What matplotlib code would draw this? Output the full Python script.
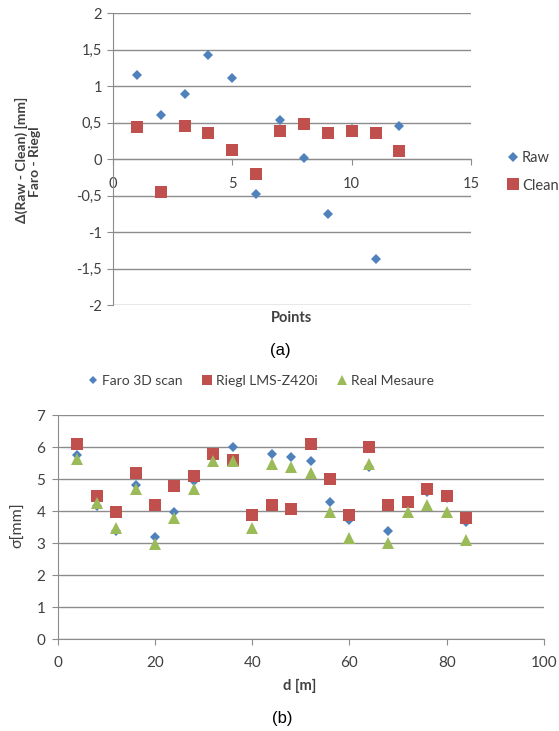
import matplotlib
matplotlib.use("Agg")
import matplotlib.pyplot as plt

# ---------------- data (a) ----------------
points = [1, 2, 3, 4, 5, 6, 7, 8, 9, 10, 11, 12]
raw = [1.16, 0.60, 0.89, 1.43, 1.11, -0.48, 0.53, 0.01, -0.75, 0.42, -1.37, 0.45]
clean = [0.44, -0.45, 0.46, 0.36, 0.12, -0.21, 0.39, 0.48, 0.36, 0.39, 0.36, 0.11]
a_yticks = [-2, -1.5, -1, -0.5, 0, 0.5, 1, 1.5, 2]
a_yticklabels = ["-2", "-1,5", "-1", "-0,5", "0", "0,5", "1", "1,5", "2"]
a_xticks = [0, 5, 10, 15]

# ---------------- data (b) ----------------
dist = [4, 8, 12, 16, 20, 24, 28, 32, 36, 40, 44, 48, 52, 56, 60, 64, 68, 72, 76, 80, 84]
faro = [5.75, 4.15, 3.38, 4.80, 3.20, 3.97, 4.94, 5.72, 5.99, 3.90, 5.79, 5.69, 5.58, 4.30,
        3.72, 5.39, 3.38, 4.22, 4.60, 4.42, 3.67]
riegl = [6.11, 4.48, 3.98, 5.18, 4.18, 4.79, 5.10, 5.79, 5.60, 3.87, 4.18, 4.08, 6.10, 5.01,
         3.87, 6.00, 4.18, 4.28, 4.70, 4.48, 3.80]
real = [5.64, 4.26, 3.46, 4.68, 2.96, 3.77, 4.68, 5.56, 5.56, 3.46, 5.47, 5.37, 5.18, 3.96,
        3.17, 5.47, 3.00, 3.98, 4.20, 3.98, 3.10]
b_yticks = [0, 1, 2, 3, 4, 5, 6, 7]
b_xticks = [0, 20, 40, 60, 80, 100]

BLUE = "#4F81BD"
RED = "#C0504D"
GREEN = "#9BBB59"
GRID = "#8C8C8C"
TXT = "#404040"

plt.rcParams['font.family'] = ['Lato', 'DejaVu Sans']

fig = plt.figure(figsize=(5.59, 7.31), dpi=100)
W, H = 559, 731

# ================= chart (a) =================
ax1 = fig.add_axes([113 / W, 1 - 305 / H, (471 - 113) / W, (305 - 13.3) / H])
ax1.plot(points, raw, linestyle='none', marker='D', markersize=5.6, color=BLUE,
         markeredgewidth=0, label='Raw', zorder=3)
ax1.plot(points, clean, linestyle='none', marker='s', markersize=8.6, color=RED,
         markeredgewidth=0, label='Clean', zorder=4)
ax1.set_xlim(0, 15)
ax1.set_ylim(-2, 2)
ax1.set_yticks(a_yticks)
ax1.set_yticklabels(a_yticklabels)
ax1.set_xticks(a_xticks)
ax1.yaxis.grid(True, color=GRID, linewidth=1)
ax1.set_axisbelow(True)
for s in ['top', 'right']:
    ax1.spines[s].set_visible(False)
ax1.spines['bottom'].set_position(('data', 0))
ax1.spines['bottom'].set_color(GRID)
ax1.spines['left'].set_color(GRID)
ax1.tick_params(axis='x', direction='out', length=4, pad=9, color=GRID, labelsize=10.5, labelcolor=TXT)
ax1.tick_params(axis='y', direction='out', length=4, pad=4, color=GRID, labelsize=10.5, labelcolor=TXT)
fig.text(21 / W, 1 - 160 / H, "\u0394(Raw - Clean) [mm]", rotation=90,
         ha='center', va='center', fontsize=10, fontweight='bold', color=TXT)
fig.text(35 / W, 1 - 162 / H, "Faro - Riegl", rotation=90,
         ha='center', va='center', fontsize=10, fontweight='bold', color=TXT)
fig.text(292 / W, 1 - 318 / H, "Points", ha='center', va='center', fontsize=10.5,
         fontweight='bold', color=TXT)
ax1.legend(loc='center left', bbox_to_anchor=(500 / W, 1 - 172 / H), bbox_transform=fig.transFigure,
           frameon=False, fontsize=10.5, handletextpad=0.1, handlelength=1.0,
           labelspacing=0.9, labelcolor=TXT, borderaxespad=0)
fig.text(280 / W, 1 - 350 / H, "(a)", ha='center', va='center', fontsize=12,
         family='Liberation Sans', color='black')

# ================= chart (b) =================
ax2 = fig.add_axes([57.7 / W, 1 - 639.3 / H, (544 - 57.7) / W, (639.3 - 415) / H])
ax2.plot(dist, faro, linestyle='none', marker='D', markersize=5.6, color=BLUE,
         markeredgewidth=0, label='Faro 3D scan', zorder=3)
ax2.plot(dist, riegl, linestyle='none', marker='s', markersize=9.0, color=RED,
         markeredgewidth=0, label='Riegl LMS-Z420i', zorder=4)
ax2.plot(dist, real, linestyle='none', marker='^', markersize=8.5, color=GREEN,
         markeredgewidth=0, label='Real Mesaure', zorder=5)
ax2.set_xlim(0, 100)
ax2.set_ylim(0, 7)
ax2.set_yticks(b_yticks)
ax2.set_xticks(b_xticks)
ax2.yaxis.grid(True, color=GRID, linewidth=1)
ax2.set_axisbelow(True)
for s in ['top', 'right']:
    ax2.spines[s].set_visible(False)
ax2.spines['bottom'].set_color(GRID)
ax2.spines['left'].set_color(GRID)
ax2.tick_params(axis='x', direction='out', length=4, pad=8, color=GRID, labelsize=11, labelcolor=TXT)
ax2.tick_params(axis='y', direction='out', length=4, pad=5, color=GRID, labelsize=11, labelcolor=TXT)
fig.text(18 / W, 1 - 525 / H, "\u03c3[mm]", rotation=90, ha='center', va='center',
         fontsize=11.5, color=TXT)
fig.text(300 / W, 1 - 686 / H, "d [m]", ha='center', va='center', fontsize=10.5,
         fontweight='bold', color=TXT)
ax2.legend(loc='center', bbox_to_anchor=(260 / W, 1 - 381 / H), bbox_transform=fig.transFigure,
           ncol=3, frameon=False, fontsize=10, handletextpad=0.1, handlelength=1.0,
           columnspacing=1.3, labelcolor=TXT, borderaxespad=0, markerscale=0.8)
fig.text(282 / W, 1 - 718 / H, "(b)", ha='center', va='center', fontsize=12,
         family='Liberation Sans', color='black')

fig.savefig("out.png", dpi=100, facecolor='white')
